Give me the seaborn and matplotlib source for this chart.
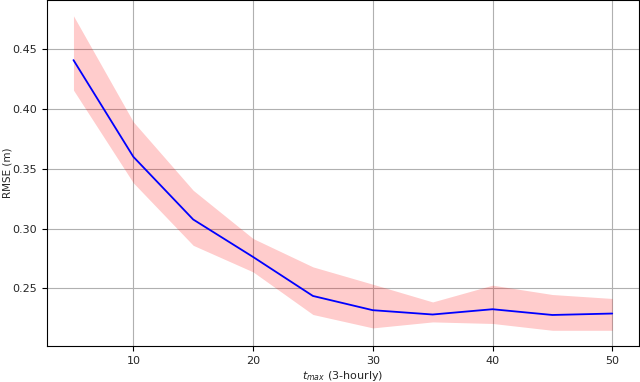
import numpy as np
import pandas as pd
import matplotlib
matplotlib.use("Agg")
import matplotlib.pyplot as plt
import seaborn as sns

t_max = [5, 10, 15, 20, 25, 30, 35, 40, 45, 50]
rmse_mean = [0.4408, 0.3600, 0.3076, 0.2763, 0.2437, 0.2318, 0.2282, 0.2326, 0.2278, 0.2290]
rmse_upper = [0.4778, 0.3892, 0.3320, 0.2917, 0.2680, 0.2535, 0.2387, 0.2527, 0.2449, 0.2416]
rmse_lower = [0.4157, 0.3382, 0.2860, 0.2638, 0.2282, 0.2170, 0.2220, 0.2207, 0.2150, 0.2150]

df = pd.DataFrame({"t": t_max, "m": rmse_mean, "lo": rmse_lower, "hi": rmse_upper})

sns.set_style("ticks")
plt.rcParams["font.family"] = ["DejaVu Sans"]

fig = plt.figure(figsize=(6.4, 3.82), dpi=100)
ax = fig.add_axes([0.0727, 0.094, 0.926, 0.906])

ax.fill_between(df["t"], df["lo"], df["hi"], color="red", alpha=0.2, linewidth=0)
sns.lineplot(data=df, x="t", y="m", color="blue", linewidth=1.3, ax=ax)

ax.set_xlim(2.75, 52.25)
ax.set_ylim(0.2018, 0.491)
ax.set_xticks([10, 20, 30, 40, 50])
ax.set_yticks([0.25, 0.30, 0.35, 0.40, 0.45])
ax.set_yticklabels(["0.25", "0.30", "0.35", "0.40", "0.45"])
ax.grid(True, color="#b0b0b0", linewidth=0.8)
ax.set_axisbelow(True)
for s in ax.spines.values():
    s.set_visible(True)
    s.set_color("black")
    s.set_linewidth(0.8)
ax.tick_params(labelsize=8, length=3.5, width=0.8, color="black")
ax.set_xlabel("$t_{max}$ (3-hourly)", fontsize=8, labelpad=2)
ax.set_ylabel("RMSE (m)", fontsize=7.5)
ax.yaxis.set_label_coords(-0.058, 0.5)

fig.savefig("out.png", dpi=100)
